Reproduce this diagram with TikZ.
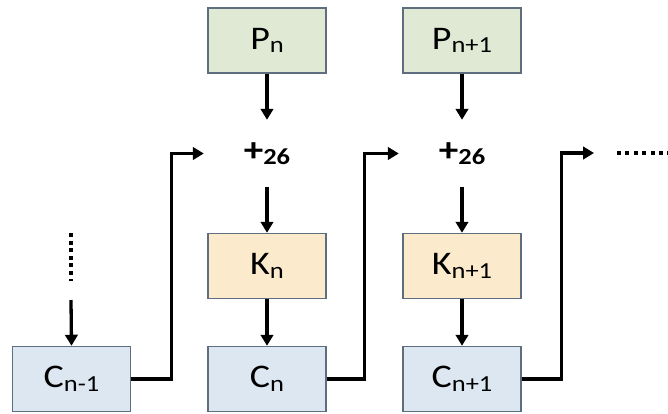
\documentclass[tikz,border=0pt]{standalone}
\usepackage{fontspec}
\setmainfont{Carlito}
\usetikzlibrary{arrows.meta}
\definecolor{pgreen}{HTML}{DFE9D4}
\definecolor{kyellow}{HTML}{FBEACB}
\definecolor{cblue}{HTML}{DCE7F2}
\definecolor{boxline}{HTML}{5E6E7E}
\newcommand\mysub[1]{\raisebox{-3.5pt}{\fontsize{23}{23}\selectfont #1}}
\newcommand\wide[1]{\scalebox{1.15}[1]{#1}}
\tikzset{
  box/.style={draw=boxline, line width=1.5pt, minimum width=118pt, minimum height=65pt, inner sep=0pt, font=\fontsize{33}{33}\selectfont},
  pbox/.style={box, fill=pgreen},
  kbox/.style={box, fill=kyellow},
  cbox/.style={box, fill=cblue},
  addnode/.style={minimum width=126pt, minimum height=67pt, inner sep=0pt, font=\bfseries\fontsize{34}{34}\selectfont},
  conn/.style={line width=3.3pt, -{Triangle[length=11pt,width=12.5pt]}},
  vdots/.style={line width=4pt, dash pattern=on 4pt off 3.6pt},
  hdots/.style={line width=4pt, dash pattern=on 4pt off 4.4pt}
}
\begin{document}
\begin{tikzpicture}[x=1pt,y=-1pt]
\useasboundingbox (0,0) rectangle (668,414);
\node[pbox] (pn) at (267,40.5) {\wide{P\mysub{n}}};
\node[pbox] (pn1) at (462,40.5) {\wide{P\mysub{n+1}}};
\node[addnode] (add1) at (267,153.5) {\wide{+\mysub{\bfseries 26}}};
\node[addnode] (add2) at (462,153.5) {\wide{+\mysub{\bfseries 26}}};
\node[kbox] (kn) at (267,266) {\wide{K\mysub{n}}};
\node[kbox] (kn1) at (462,266) {\wide{K\mysub{n+1}}};
\node[cbox] (cnm1) at (71.5,379) {\wide{C\mysub{n-1}}};
\node[cbox] (cn) at (267,379) {\wide{C\mysub{n}}};
\node[cbox] (cn1) at (462,379) {\wide{C\mysub{n+1}}};
\coordinate (vd1) at (71,233);
\coordinate (vd2) at (71,281);
\coordinate (va) at (71,300);
\coordinate (ctail) at (594,153);
\coordinate (hd1) at (617,153);
\coordinate (hd2) at (668,153);
\draw[conn] (pn) -- (add1);
\draw[conn] (pn1) -- (add2);
\draw[conn] (add1) -- (kn);
\draw[conn] (add2) -- (kn1);
\draw[conn] (kn) -- (cn);
\draw[conn] (kn1) -- (cn1);
\draw[conn] (cnm1.east) -- ++(40,0) |- (add1.west);
\draw[conn] (cn.east) -- ++(38,0) |- (add2.west);
\draw[conn] (cn1.east) -- ++(40,0) |- (ctail);
\draw[vdots] (vd1) -- (vd2);
\draw[conn] (va) -- (cnm1.north);
\draw[hdots] (hd1) -- (hd2);
\end{tikzpicture}
\end{document}
